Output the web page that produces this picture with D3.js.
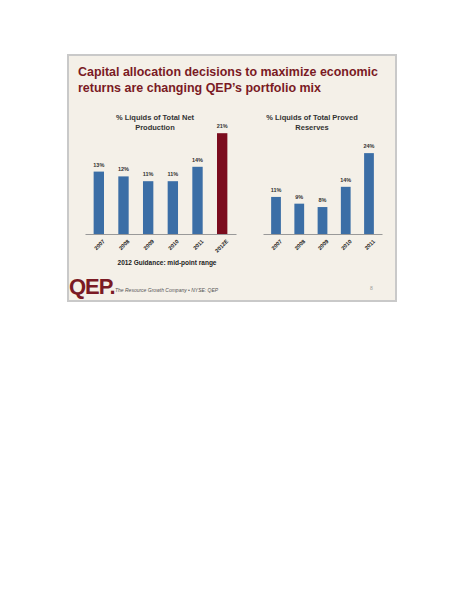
<!DOCTYPE html>
<html><head><meta charset="utf-8">
<script src="https://cdn.jsdelivr.net/npm/d3@7"></script>
<style>body{margin:0;background:#fff}</style></head>
<body><svg id="c" width="464" height="600"></svg>
<script>
const prodYears = ["2007","2008","2009","2010","2011","2012E"];
const prodValues = [13,12,11,11,14,21];
const resYears = ["2007","2008","2009","2010","2011"];
const resValues = [11,9,8,14,24];

const svg = d3.select("#c");
const F = "Arial, 'Liberation Sans', sans-serif";
svg.append("rect").attr("x",68).attr("y",55).attr("width",328).attr("height",246)
  .attr("fill","#f4f0e8").attr("stroke","#c9c9c9").attr("stroke-width",2);
svg.append("text").attr("x",78).attr("y",76).attr("font-family",F).attr("font-weight","bold")
  .attr("font-size",13).attr("fill","#7a1a24").attr("textLength",300).attr("lengthAdjust","spacingAndGlyphs")
  .text("Capital allocation decisions to maximize economic");
svg.append("text").attr("x",78).attr("y",92).attr("font-family",F).attr("font-weight","bold")
  .attr("font-size",13).attr("fill","#7a1a24").attr("textLength",243).attr("lengthAdjust","spacingAndGlyphs")
  .text("returns are changing QEP’s portfolio mix");

function chart(cats, vals, x0, x1, perUnit, title, cx, hl){
  const base = 234;
  const x = d3.scaleBand().domain(cats).range([x0,x1]).paddingInner(0.58).paddingOuter(0.35);
  const y = d3.scaleLinear().domain([0,1]).range([base, base-perUnit]);
  svg.selectAll(null).data(cats).enter().append("rect")
    .attr("x",d=>x(d)).attr("width",x.bandwidth())
    .attr("y",(d,i)=>y(vals[i])).attr("height",(d,i)=>base-y(vals[i]))
    .attr("fill",d=>d===hl?"#7b0c1e":"#3b6ea6");
  svg.selectAll(null).data(cats).enter().append("text")
    .attr("x",d=>x(d)+x.bandwidth()/2).attr("y",(d,i)=>y(vals[i])-5)
    .attr("text-anchor","middle").attr("font-family",F).attr("font-size",5.5).attr("font-weight","bold")
    .attr("fill","#333").text((d,i)=>vals[i]+"%");
  const ax = svg.append("g").attr("transform",`translate(0,${base})`)
    .call(d3.axisBottom(x).tickSize(0).tickPadding(6));
  ax.select(".domain").attr("stroke","#999");
  ax.selectAll("text").attr("font-family",F).attr("font-size",5.5).attr("font-weight","bold").attr("fill","#222")
    .attr("text-anchor","end").attr("transform","rotate(-45)").attr("dx","-1").attr("dy","4");
  title.forEach((t,i)=>svg.append("text").attr("x",cx).attr("y",120+i*10).attr("text-anchor","middle")
    .attr("font-family",F).attr("font-weight","bold").attr("font-size",7.5).attr("fill","#333").text(t));
}
chart(prodYears, prodValues, 85, 236, 4.8, ["% Liquids of Total Net","Production"], 155, "2012E");
chart(resYears, resValues, 263, 382, 3.37, ["% Liquids of Total Proved","Reserves"], 312, null);

svg.append("text").attr("x",167).attr("y",265).attr("text-anchor","middle").attr("font-family",F)
  .attr("font-weight","bold").attr("font-size",6.5).attr("fill","#222").text("2012 Guidance:  mid-point range");
svg.append("text").attr("x",69).attr("y",294).attr("font-family",F).attr("font-weight","900")
  .attr("font-size",22).attr("fill","#7a1a24").attr("letter-spacing",-1).text("QEP.");
svg.append("text").attr("x",115).attr("y",292).attr("font-family",F).attr("font-style","italic")
  .attr("font-size",5).attr("fill","#555").text("The Resource Growth Company  •  NYSE: QEP");
svg.append("text").attr("x",370).attr("y",290).attr("font-family",F).attr("font-size",5).attr("fill","#999").text("8");
</script></body></html>
